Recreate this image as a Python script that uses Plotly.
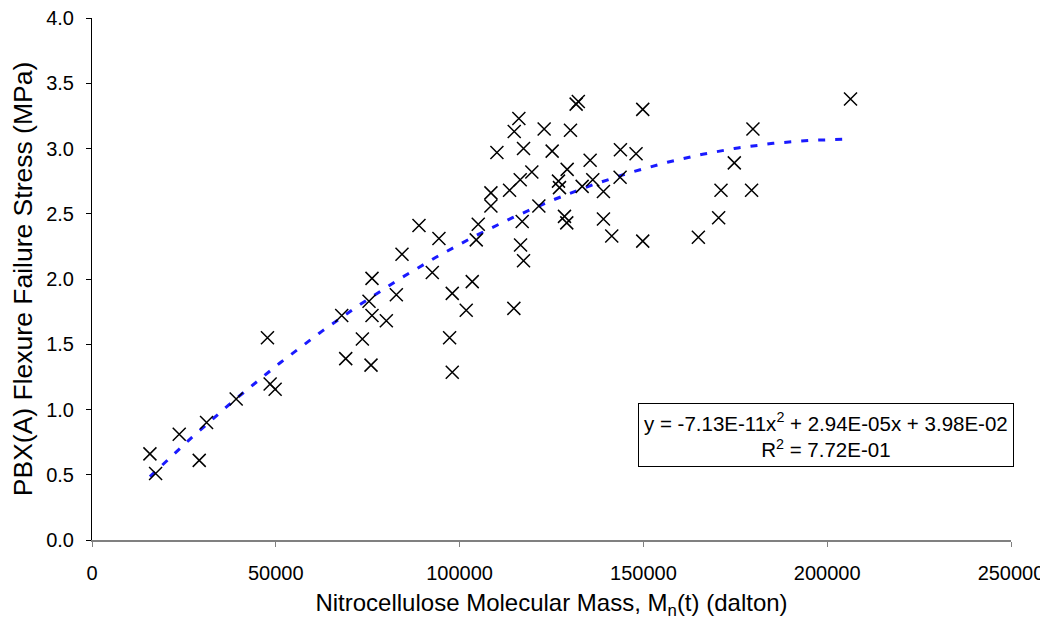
import numpy as np
import plotly.graph_objects as go

# Data
mn_dalton = [15760, 17300, 23730, 29170, 31160, 39220, 47730, 48460, 49820,
             67930, 69020, 73550, 75900, 76170, 75360, 76170, 80070, 82790,
             84330, 88950, 92570, 94380, 97280, 98000, 98000, 101800, 103440,
             104530, 105070, 108520, 108520, 110150, 113590, 114860, 116120,
             114760, 116490, 117390, 119650, 117030, 116580, 117390, 121560,
             123000, 125180, 126900, 127170, 129260, 128530, 129150, 130160,
             131700, 132300, 133340, 135510, 136230, 139130, 139130, 141390,
             143750, 143660, 148000, 149820, 149820, 164950, 170470, 171110,
             174730, 179430, 179800, 206340]
stress_mpa = [0.66, 0.51, 0.81, 0.61, 0.90, 1.08, 1.55, 1.195, 1.155,
              1.72, 1.39, 1.54, 1.34, 2.005, 1.83, 1.72, 1.68, 1.88,
              2.19, 2.41, 2.05, 2.31, 1.55, 1.285, 1.89, 1.76, 1.98,
              2.30, 2.42, 2.56, 2.66, 2.97, 2.68, 3.13, 3.23,
              1.775, 2.76, 3.00, 2.82, 2.44, 2.26, 2.14, 2.56,
              3.15, 2.98, 2.75, 2.70, 2.84, 2.48, 2.43, 3.14,
              3.34, 3.36, 2.71, 2.91, 2.76, 2.67, 2.46, 2.33,
              2.99, 2.78, 2.96, 3.30, 2.29, 2.32, 2.47, 2.68,
              2.89, 2.68, 3.15, 3.38]

# Trendline coefficients as printed on the chart (a*x^2 + b*x + c)
trend_coeffs = [-7.13e-11, 2.94e-05, 3.98e-02]
trend_label = "y = -7.13E-11x<sup>2</sup> + 2.94E-05x + 3.98E-02<br>R<sup>2</sup> = 7.72E-01"

x_ticks = [0, 50000, 100000, 150000, 200000, 250000]
y_ticks = [0.0, 0.5, 1.0, 1.5, 2.0, 2.5, 3.0, 3.5, 4.0]

tx = np.linspace(min(mn_dalton), max(mn_dalton), 200)
ty = np.polyval(trend_coeffs, tx)

FONT = "Liberation Sans, Arial, sans-serif"

fig = go.Figure()
fig.add_trace(go.Scatter(
    x=tx, y=ty, mode="lines",
    line=dict(color="#1a1aff", width=3, dash="7px,10px"),
    hoverinfo="skip", showlegend=False,
))
fig.add_trace(go.Scatter(
    x=mn_dalton, y=stress_mpa, mode="markers",
    marker=dict(symbol="x-thin-open", size=13, color="black",
                line=dict(color="black", width=1.5)),
    showlegend=False,
))

fig.add_annotation(
    x=0.799, y=0.202, xref="paper", yref="paper",
    xanchor="center", yanchor="middle",
    text=trend_label, showarrow=False, align="center",
    font=dict(family=FONT, size=20.5, color="black"),
    bordercolor="black", borderwidth=1, borderpad=5, bgcolor="white",
)

fig.update_layout(
    width=1048, height=620,
    margin=dict(l=84, r=45, t=10, b=88),
    paper_bgcolor="white", plot_bgcolor="white",
    font=dict(family=FONT, size=20, color="black"),
    xaxis=dict(
        range=[0, 250000], tickvals=x_ticks,
        ticktext=[str(v) for v in x_ticks],
        showgrid=False, zeroline=False, automargin=False,
        showline=True, linecolor="#808080", linewidth=1.5,
        ticks="outside", ticklen=5, tickcolor="#808080",
        ticklabelstandoff=9, ticklabeloverflow="allow",
        title=dict(text="Nitrocellulose Molecular Mass, M<sub>n</sub>(t) (dalton)",
                   font=dict(size=24), standoff=11),
    ),
    yaxis=dict(
        range=[0, 4], tickvals=y_ticks,
        ticktext=[f"{v:.1f}" for v in y_ticks],
        showgrid=False, zeroline=False, automargin=False,
        showline=True, linecolor="black", linewidth=1,
        ticks="outside", ticklen=5, tickcolor="black",
        ticklabelstandoff=8, ticklabeloverflow="allow",
        title=dict(text="PBX(A) Flexure Failure Stress (MPa)",
                   font=dict(size=26.5), standoff=10),
    ),
)

fig.write_html("out.html")
